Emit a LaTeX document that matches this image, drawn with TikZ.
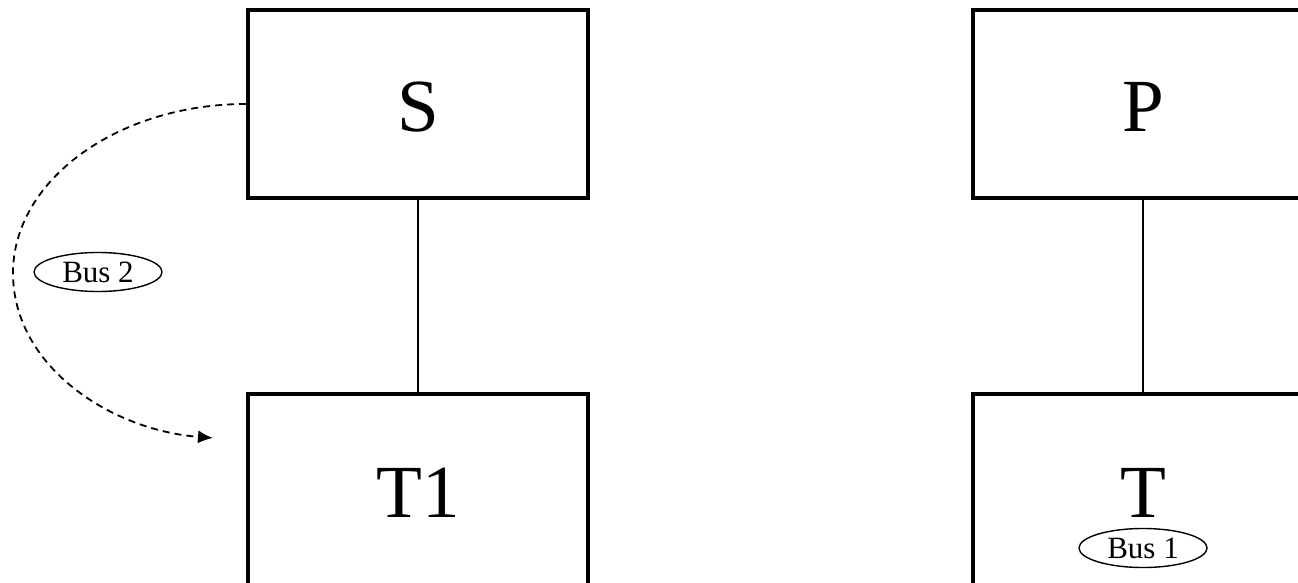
\documentclass[tikz,border=0pt]{standalone}
\usepackage{fontspec}
\setmainfont{Liberation Serif}
\usetikzlibrary{arrows.meta,shapes.geometric}

\begin{document}
\begin{tikzpicture}[x=1pt,y=-1pt,>=Latex,
  unitbox/.style={draw=black,line width=4pt,minimum width=340pt,minimum height=188pt,inner sep=0pt,text height=55pt,text depth=0pt,font=\fontsize{75}{80}\selectfont},
  lowbox/.style={unitbox,minimum height=191pt},
  busoval/.style={draw=black,ellipse,line width=1.4pt,fill=white,minimum width=128pt,minimum height=39pt,inner sep=0pt,font=\fontsize{31}{33}\selectfont},
  link/.style={line width=2.4pt}]
\useasboundingbox (0,0) rectangle (1298,583);
\node[unitbox] (s) at (418,104) {S};
\node[lowbox] (t1) at (418,489.5) {T1};
\node[unitbox] (p) at (1143,104) {P};
\node[lowbox] (t) at (1143,489.5) {T};
\node[busoval] (bus1) at (1143,548) {Bus 1};
\node[busoval] (bus2) at (98,272) {Bus 2};
\coordinate (bus2end) at (213,438);
\draw[link] (s.south)--(t1.north);
\draw[link] (p.south)--(t.north);
% dashed bus 2 path round the left side
\draw[line width=1.8pt,dash pattern=on 7pt off 5pt,-{Latex[length=15pt,width=13pt]}] (s.west) .. controls (118,104) and (13,180) .. (13,273) .. controls (13,366) and (110,430) .. (bus2end);
\end{tikzpicture}
\end{document}
